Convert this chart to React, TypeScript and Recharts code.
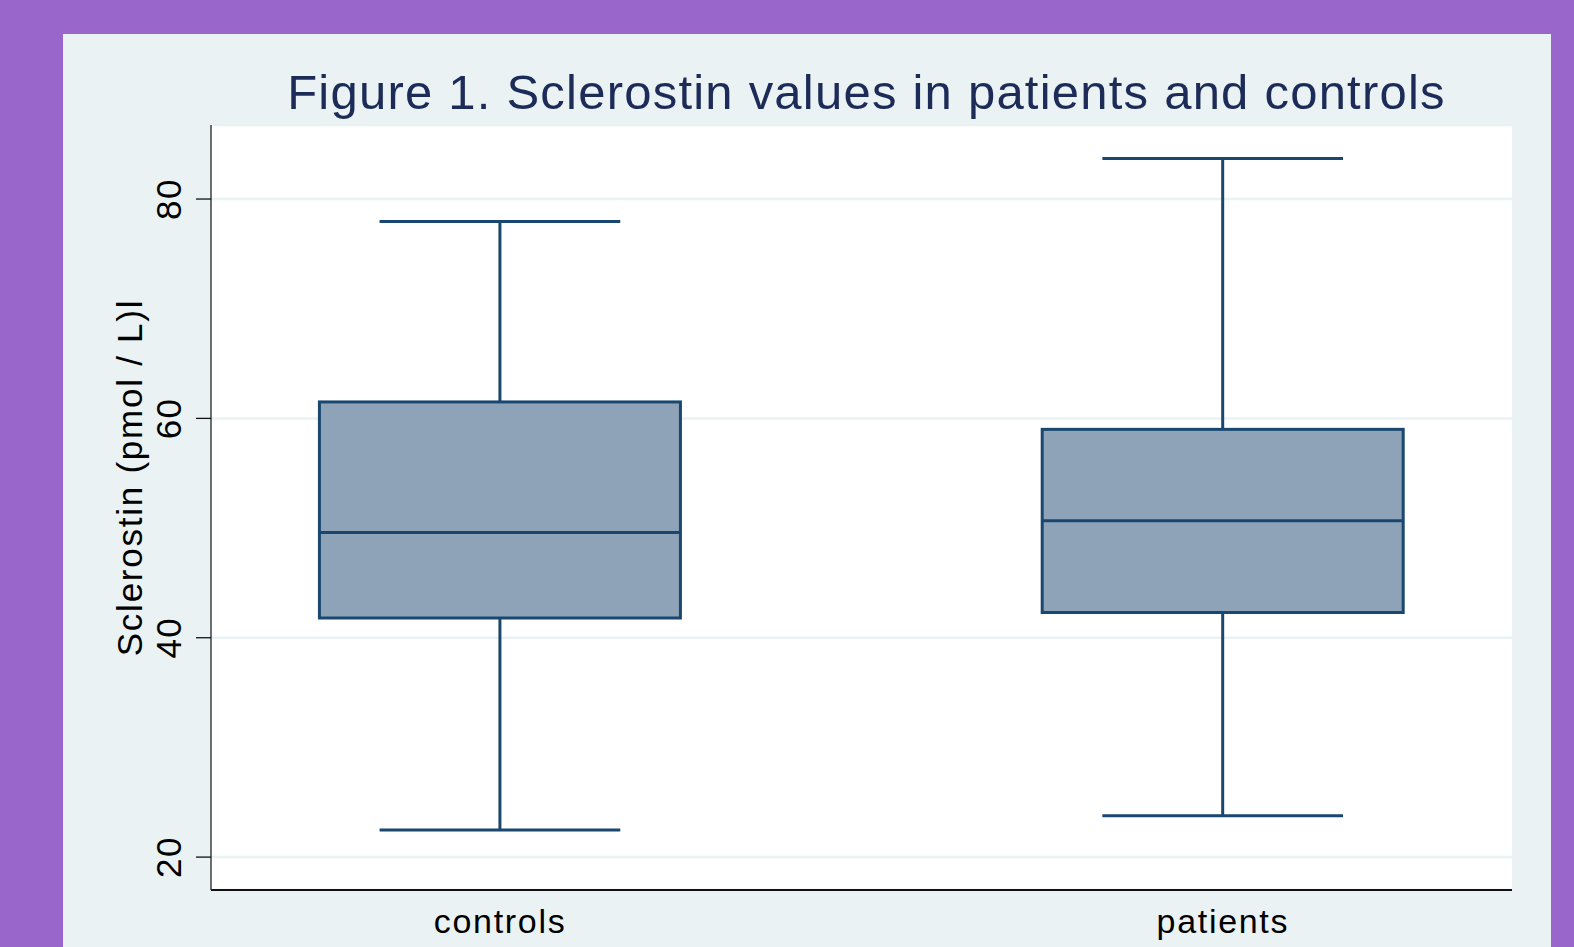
import React from "react";
import { ComposedChart, Bar, XAxis, YAxis, CartesianGrid } from "recharts";

const groups = ["controls", "patients"];
const lowWhisker = [22.46, 23.76];
const lowerQuartile = [41.8, 42.3];
const median = [49.6, 50.66];
const upperQuartile = [61.5, 59.0];
const highWhisker = [77.95, 83.7];
const yTicks = [20, 40, 60, 80];

const FONT = '"Liberation Sans", Arial, Helvetica, sans-serif';
const NAVY = "#1a476f";
const BOX_FILL = "#8ea3b8";
const PANEL = "#eaf2f3";

const data = groups.map((g, i) => ({
  group: g,
  pos: i,
  lo: lowWhisker[i],
  q1: lowerQuartile[i],
  med: median[i],
  q3: upperQuartile[i],
  hi: highWhisker[i],
}));

// draws the box and whiskers inside the range the Bar gives (lo..hi)
const BoxShape = (props: any) => {
  const { x, y, width, height, payload } = props;
  if (x == null || y == null) return null;
  const top = Math.min(y, y + height);
  const h = Math.abs(height);
  const span = payload.hi - payload.lo;
  const py = (v: number) => top + (h * (payload.hi - v)) / span;
  const cx = x + width / 2;
  const cap = width / 3;
  return (
    <g stroke={NAVY} strokeWidth={3}>
      <line x1={cx} x2={cx} y1={py(payload.hi)} y2={py(payload.q3)} />
      <line x1={cx} x2={cx} y1={py(payload.q1)} y2={py(payload.lo)} />
      <line x1={cx - cap} x2={cx + cap} y1={py(payload.hi)} y2={py(payload.hi)} />
      <line x1={cx - cap} x2={cx + cap} y1={py(payload.lo)} y2={py(payload.lo)} />
      <rect
        x={x}
        y={py(payload.q3)}
        width={width}
        height={py(payload.q1) - py(payload.q3)}
        fill={BOX_FILL}
      />
      <line x1={x} x2={x + width} y1={py(payload.med)} y2={py(payload.med)} />
    </g>
  );
};

const YTick = (props: any) => {
  const { x, y, payload } = props;
  return (
    <text
      x={x}
      y={y}
      transform={`rotate(-90, ${x}, ${y})`}
      textAnchor="middle"
      fontSize={35}
      fontFamily={FONT}
      fill="#000"
      letterSpacing="0.04em"
    >
      {payload.value}
    </text>
  );
};

const YLabel = (props: any) => {
  const vb = props.viewBox || { x: 0, y: 0, width: 0, height: 0 };
  const lx = vb.x + 79;
  const ly = vb.y + vb.height / 2 - 30;
  return (
    <text
      x={lx}
      y={ly}
      transform={`rotate(-90, ${lx}, ${ly})`}
      textAnchor="middle"
      fontSize={35}
      fontFamily={FONT}
      fill="#000"
      letterSpacing="0.05em"
    >
      Sclerostin (pmol / L)l
    </text>
  );
};

export default function App() {
  return (
    <div
      style={{
        position: "absolute",
        left: 0,
        top: 0,
        width: 1574,
        height: 947,
        background: "#9966cc",
        overflow: "hidden",
      }}
    >
      <div
        style={{
          position: "absolute",
          left: 63,
          top: 34,
          width: 1488,
          height: 913,
          background: PANEL,
        }}
      >
        <div
          style={{
            position: "absolute",
            left: 153,
            top: 34,
            width: 1301,
            textAlign: "center",
            fontFamily: FONT,
            fontSize: 49,
            lineHeight: "49px",
            letterSpacing: "0.025em",
            color: "#1c2b57",
            whiteSpace: "nowrap",
          }}
        >
          Figure 1. Sclerostin values in patients and controls
        </div>
        <ComposedChart
          width={1488}
          height={913}
          data={data}
          margin={{ top: 91, right: 39, bottom: 0, left: 0 }}
          barCategoryGap="25%"
        >
          <CartesianGrid
            vertical={false}
            fill="#ffffff"
            stroke={PANEL}
            strokeWidth={2.5}
          />
          <XAxis
            dataKey="pos"
            type="number"
            domain={[-0.4, 1.4]}
            ticks={[0, 1]}
            tickFormatter={(v: number) => groups[v]}
            height={57}
            tickLine={false}
            tickMargin={13}
            axisLine={{ stroke: "#111", strokeWidth: 2 }}
            tick={{ fontSize: 34, fontFamily: FONT, fill: "#000", letterSpacing: "0.05em" }}
          />
          <YAxis
            type="number"
            domain={[17, 86.75]}
            ticks={yTicks}
            width={148}
            tickSize={15}
            tickMargin={15}
            tickLine={{ stroke: "#111", strokeWidth: 1.3 }}
            axisLine={{ stroke: "#222", strokeWidth: 1.3 }}
            tick={<YTick />}
            label={{ content: <YLabel /> }}
          />
          <Bar
            dataKey={(d: any) => [d.lo, d.hi]}
            shape={<BoxShape />}
            isAnimationActive={false}
          />
        </ComposedChart>
      </div>
    </div>
  );
}
